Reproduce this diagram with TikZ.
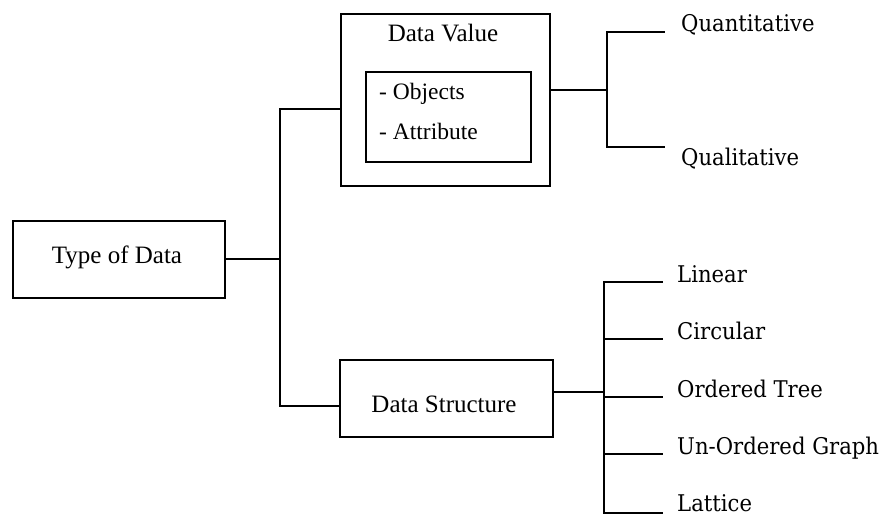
\documentclass[tikz,border=0pt]{standalone}
\usepackage{fontspec}
\setmainfont{Liberation Serif}
\newfontfamily\leaffont[FakeStretch=0.92]{DejaVu Serif}
\begin{document}
\begin{tikzpicture}[x=1pt,y=-1pt,
  wire/.style={line width=2pt, line cap=rect},
  boxed/.style={draw, line width=2pt, inner sep=0pt, anchor=north west},
  boxtext/.style={font=\fontsize{25}{30}\selectfont, inner sep=0pt, anchor=base},
  itemtext/.style={font=\fontsize{23.5}{28}\selectfont, inner sep=0pt, anchor=base west},
  leaf/.style={font=\leaffont\fontsize{23}{28}\selectfont, inner sep=0pt, anchor=base west}]
\useasboundingbox (0,0) rectangle (881,516);

% boxes
\node[boxed, minimum width=212pt, minimum height=77pt] (root) at (12,220) {};
\node[boxed, minimum width=209pt, minimum height=172pt] (value) at (340,13) {};
\node[boxed, minimum width=165pt, minimum height=90pt] (inner) at (365,71) {};
\node[boxed, minimum width=213pt, minimum height=77pt] (struct) at (339,359) {};

% box captions
\node[boxtext] (rootlabel) at (117,263) {Type of Data};
\node[boxtext] (valuelabel) at (443,42) {Data Value};
\node[itemtext] (objects) at (379,100) {- Objects};
\node[itemtext] (attribute) at (379,140) {- Attribute};
\node[boxtext] (structlabel) at (444,412) {Data Structure};

% main bracket
\coordinate (rootout) at (root.east |- 0,259);
\coordinate (hub) at (280,259);
\coordinate (hubtop) at (280,109);
\coordinate (hubbot) at (280,406);
\draw[wire] (rootout) -- (hub);
\draw[wire] (hubtop) -- (hubbot);
\draw[wire] (hubtop) -- (value.west |- hubtop);
\draw[wire] (hubbot) -- (struct.west |- hubbot);

% data value branches
\coordinate (vout) at (value.east |- 0,90);
\coordinate (vhub) at (607,90);
\coordinate (vtop) at (607,32);
\coordinate (vbot) at (607,147);
\coordinate (qn) at (664,32);
\coordinate (ql) at (664,147);
\draw[wire] (vout) -- (vhub);
\draw[wire] (vtop) -- (vbot);
\draw[wire] (vtop) -- (qn);
\draw[wire] (vbot) -- (ql);
\node[leaf] (quant) at (681,32) {Quantitative};
\node[leaf] (qual) at (681,166) {Qualitative};

% data structure branches
\coordinate (sout) at (struct.east |- 0,392);
\coordinate (shub) at (604,392);
\coordinate (s1) at (604,282);
\coordinate (s2) at (604,339);
\coordinate (s3) at (604,397);
\coordinate (s4) at (604,454);
\coordinate (s5) at (604,513);
\coordinate (e1) at (662,282);
\coordinate (e2) at (662,339);
\coordinate (e3) at (662,397);
\coordinate (e4) at (662,454);
\coordinate (e5) at (662,513);
\draw[wire] (sout) -- (shub);
\draw[wire] (s1) -- (s5);
\draw[wire] (s1) -- (e1);
\draw[wire] (s2) -- (e2);
\draw[wire] (s3) -- (e3);
\draw[wire] (s4) -- (e4);
\draw[wire] (s5) -- (e5);
\node[leaf] (linear) at (677,282) {Linear};
\node[leaf] (circular) at (677,339) {Circular};
\node[leaf] (otree) at (677,397) {Ordered Tree};
\node[leaf] (ugraph) at (677,454) {Un-Ordered Graph};
\node[leaf] (lattice) at (677,511) {Lattice};
\end{tikzpicture}
\end{document}
